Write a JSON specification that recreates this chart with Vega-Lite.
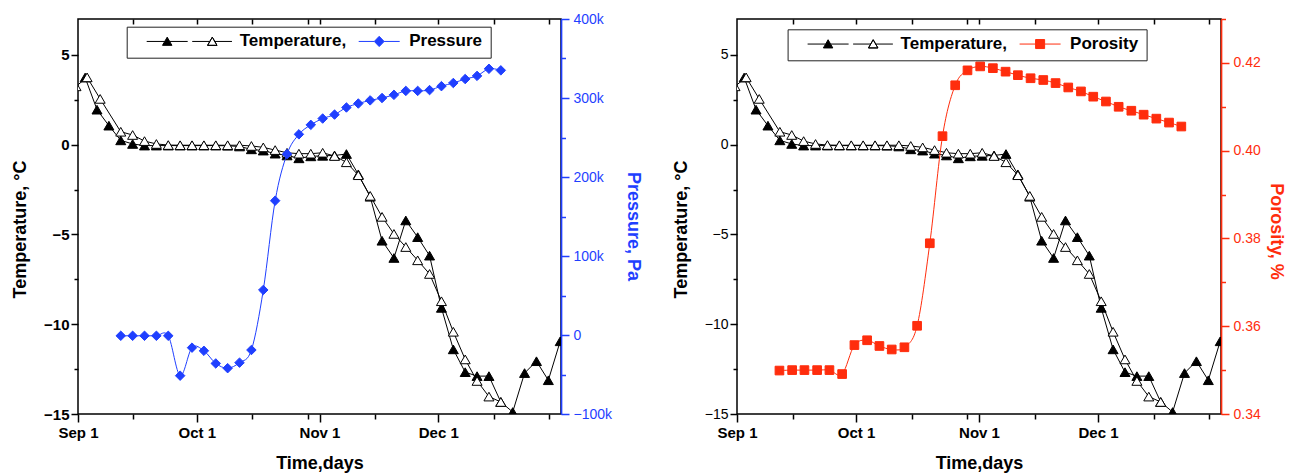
{
  "$schema": "https://vega.github.io/schema/vega-lite/v6.json",
  "padding": {"left": 10, "top": 11, "right": 0, "bottom": 0},
  "spacing": 28,
  "datasets": {
    "temp": [
      {"day": 1.8, "temp": 3.74, "series": "T1", "quantity": "Temperature"},
      {"day": 4.8, "temp": 1.95, "series": "T1", "quantity": "Temperature"},
      {"day": 7.8, "temp": 1.06, "series": "T1", "quantity": "Temperature"},
      {"day": 10.8, "temp": 0.24, "series": "T1", "quantity": "Temperature"},
      {"day": 13.8, "temp": 0.04, "series": "T1", "quantity": "Temperature"},
      {"day": 16.8, "temp": -0.05, "series": "T1", "quantity": "Temperature"},
      {"day": 19.8, "temp": -0.05, "series": "T1", "quantity": "Temperature"},
      {"day": 22.8, "temp": -0.05, "series": "T1", "quantity": "Temperature"},
      {"day": 25.8, "temp": -0.05, "series": "T1", "quantity": "Temperature"},
      {"day": 28.8, "temp": -0.05, "series": "T1", "quantity": "Temperature"},
      {"day": 31.8, "temp": -0.05, "series": "T1", "quantity": "Temperature"},
      {"day": 34.8, "temp": -0.05, "series": "T1", "quantity": "Temperature"},
      {"day": 37.8, "temp": -0.06, "series": "T1", "quantity": "Temperature"},
      {"day": 40.8, "temp": -0.1, "series": "T1", "quantity": "Temperature"},
      {"day": 43.8, "temp": -0.26, "series": "T1", "quantity": "Temperature"},
      {"day": 46.8, "temp": -0.33, "series": "T1", "quantity": "Temperature"},
      {"day": 49.8, "temp": -0.5, "series": "T1", "quantity": "Temperature"},
      {"day": 52.8, "temp": -0.6, "series": "T1", "quantity": "Temperature"},
      {"day": 55.8, "temp": -0.76, "series": "T1", "quantity": "Temperature"},
      {"day": 58.8, "temp": -0.65, "series": "T1", "quantity": "Temperature"},
      {"day": 61.8, "temp": -0.62, "series": "T1", "quantity": "Temperature"},
      {"day": 64.8, "temp": -0.6, "series": "T1", "quantity": "Temperature"},
      {"day": 67.8, "temp": -0.52, "series": "T1", "quantity": "Temperature"},
      {"day": 70.8, "temp": -1.65, "series": "T1", "quantity": "Temperature"},
      {"day": 73.8, "temp": -2.9, "series": "T1", "quantity": "Temperature"},
      {"day": 76.8, "temp": -5.35, "series": "T1", "quantity": "Temperature"},
      {"day": 79.8, "temp": -6.31, "series": "T1", "quantity": "Temperature"},
      {"day": 82.8, "temp": -4.22, "series": "T1", "quantity": "Temperature"},
      {"day": 85.8, "temp": -5.15, "series": "T1", "quantity": "Temperature"},
      {"day": 88.8, "temp": -6.18, "series": "T1", "quantity": "Temperature"},
      {"day": 91.8, "temp": -9.09, "series": "T1", "quantity": "Temperature"},
      {"day": 94.8, "temp": -11.4, "series": "T1", "quantity": "Temperature"},
      {"day": 97.8, "temp": -12.67, "series": "T1", "quantity": "Temperature"},
      {"day": 100.8, "temp": -12.89, "series": "T1", "quantity": "Temperature"},
      {"day": 103.8, "temp": -12.89, "series": "T1", "quantity": "Temperature"},
      {"day": 106.8, "temp": -14.33, "series": "T1", "quantity": "Temperature"},
      {"day": 109.8, "temp": -14.89, "series": "T1", "quantity": "Temperature"},
      {"day": 112.8, "temp": -12.72, "series": "T1", "quantity": "Temperature"},
      {"day": 115.8, "temp": -12.06, "series": "T1", "quantity": "Temperature"},
      {"day": 118.8, "temp": -13.12, "series": "T1", "quantity": "Temperature"},
      {"day": 121.8, "temp": -10.95, "series": "T1", "quantity": "Temperature"},
      {"day": -0.5, "temp": 3.25, "series": "T2", "quantity": "Temperature"},
      {"day": 2.3, "temp": 3.75, "series": "T2", "quantity": "Temperature"},
      {"day": 5.6, "temp": 2.55, "series": "T2", "quantity": "Temperature"},
      {"day": 10.8, "temp": 0.72, "series": "T2", "quantity": "Temperature"},
      {"day": 13.8, "temp": 0.54, "series": "T2", "quantity": "Temperature"},
      {"day": 16.8, "temp": 0.2, "series": "T2", "quantity": "Temperature"},
      {"day": 19.8, "temp": 0.04, "series": "T2", "quantity": "Temperature"},
      {"day": 22.8, "temp": -0.02, "series": "T2", "quantity": "Temperature"},
      {"day": 25.8, "temp": -0.03, "series": "T2", "quantity": "Temperature"},
      {"day": 28.8, "temp": -0.03, "series": "T2", "quantity": "Temperature"},
      {"day": 31.8, "temp": -0.03, "series": "T2", "quantity": "Temperature"},
      {"day": 34.8, "temp": -0.03, "series": "T2", "quantity": "Temperature"},
      {"day": 37.8, "temp": -0.03, "series": "T2", "quantity": "Temperature"},
      {"day": 40.8, "temp": -0.03, "series": "T2", "quantity": "Temperature"},
      {"day": 43.8, "temp": -0.07, "series": "T2", "quantity": "Temperature"},
      {"day": 46.8, "temp": -0.15, "series": "T2", "quantity": "Temperature"},
      {"day": 49.8, "temp": -0.3, "series": "T2", "quantity": "Temperature"},
      {"day": 52.8, "temp": -0.45, "series": "T2", "quantity": "Temperature"},
      {"day": 55.8, "temp": -0.5, "series": "T2", "quantity": "Temperature"},
      {"day": 58.8, "temp": -0.5, "series": "T2", "quantity": "Temperature"},
      {"day": 61.8, "temp": -0.45, "series": "T2", "quantity": "Temperature"},
      {"day": 64.8, "temp": -0.63, "series": "T2", "quantity": "Temperature"},
      {"day": 67.8, "temp": -0.98, "series": "T2", "quantity": "Temperature"},
      {"day": 70.8, "temp": -1.7, "series": "T2", "quantity": "Temperature"},
      {"day": 73.8, "temp": -2.85, "series": "T2", "quantity": "Temperature"},
      {"day": 76.8, "temp": -4.02, "series": "T2", "quantity": "Temperature"},
      {"day": 79.8, "temp": -4.97, "series": "T2", "quantity": "Temperature"},
      {"day": 82.8, "temp": -5.7, "series": "T2", "quantity": "Temperature"},
      {"day": 85.8, "temp": -6.44, "series": "T2", "quantity": "Temperature"},
      {"day": 88.8, "temp": -7.2, "series": "T2", "quantity": "Temperature"},
      {"day": 91.8, "temp": -8.72, "series": "T2", "quantity": "Temperature"},
      {"day": 94.8, "temp": -10.42, "series": "T2", "quantity": "Temperature"},
      {"day": 97.8, "temp": -11.96, "series": "T2", "quantity": "Temperature"},
      {"day": 100.8, "temp": -13.16, "series": "T2", "quantity": "Temperature"},
      {"day": 103.8, "temp": -14.03, "series": "T2", "quantity": "Temperature"},
      {"day": 106.8, "temp": -14.33, "series": "T2", "quantity": "Temperature"}
    ],
    "pressure": [
      {"day": 10.8, "pressure": -1000, "series": "P", "quantity": "Pressure"},
      {"day": 13.8, "pressure": -1000, "series": "P", "quantity": "Pressure"},
      {"day": 16.8, "pressure": -1000, "series": "P", "quantity": "Pressure"},
      {"day": 19.8, "pressure": -1000, "series": "P", "quantity": "Pressure"},
      {"day": 22.8, "pressure": -1000, "series": "P", "quantity": "Pressure"},
      {"day": 25.8, "pressure": -51500, "series": "P", "quantity": "Pressure"},
      {"day": 28.8, "pressure": -16000, "series": "P", "quantity": "Pressure"},
      {"day": 31.8, "pressure": -20000, "series": "P", "quantity": "Pressure"},
      {"day": 34.8, "pressure": -36000, "series": "P", "quantity": "Pressure"},
      {"day": 37.8, "pressure": -42000, "series": "P", "quantity": "Pressure"},
      {"day": 40.8, "pressure": -35000, "series": "P", "quantity": "Pressure"},
      {"day": 43.8, "pressure": -19000, "series": "P", "quantity": "Pressure"},
      {"day": 46.8, "pressure": 57000, "series": "P", "quantity": "Pressure"},
      {"day": 49.8, "pressure": 170000, "series": "P", "quantity": "Pressure"},
      {"day": 52.8, "pressure": 229000, "series": "P", "quantity": "Pressure"},
      {"day": 55.8, "pressure": 254000, "series": "P", "quantity": "Pressure"},
      {"day": 58.8, "pressure": 266000, "series": "P", "quantity": "Pressure"},
      {"day": 61.8, "pressure": 274000, "series": "P", "quantity": "Pressure"},
      {"day": 64.8, "pressure": 279000, "series": "P", "quantity": "Pressure"},
      {"day": 67.8, "pressure": 288000, "series": "P", "quantity": "Pressure"},
      {"day": 70.8, "pressure": 293000, "series": "P", "quantity": "Pressure"},
      {"day": 73.8, "pressure": 297000, "series": "P", "quantity": "Pressure"},
      {"day": 76.8, "pressure": 300000, "series": "P", "quantity": "Pressure"},
      {"day": 79.8, "pressure": 304000, "series": "P", "quantity": "Pressure"},
      {"day": 82.8, "pressure": 309000, "series": "P", "quantity": "Pressure"},
      {"day": 85.8, "pressure": 309000, "series": "P", "quantity": "Pressure"},
      {"day": 88.8, "pressure": 310000, "series": "P", "quantity": "Pressure"},
      {"day": 91.8, "pressure": 315000, "series": "P", "quantity": "Pressure"},
      {"day": 94.8, "pressure": 319000, "series": "P", "quantity": "Pressure"},
      {"day": 97.8, "pressure": 324000, "series": "P", "quantity": "Pressure"},
      {"day": 100.8, "pressure": 328000, "series": "P", "quantity": "Pressure"},
      {"day": 103.8, "pressure": 337000, "series": "P", "quantity": "Pressure"},
      {"day": 106.8, "pressure": 335000, "series": "P", "quantity": "Pressure"}
    ],
    "porosity": [
      {"day": 10.7, "porosity": 0.3499, "series": "R", "quantity": "Porosity"},
      {"day": 13.9, "porosity": 0.35, "series": "R", "quantity": "Porosity"},
      {"day": 17.0, "porosity": 0.35, "series": "R", "quantity": "Porosity"},
      {"day": 20.2, "porosity": 0.35, "series": "R", "quantity": "Porosity"},
      {"day": 23.3, "porosity": 0.35, "series": "R", "quantity": "Porosity"},
      {"day": 26.5, "porosity": 0.3491, "series": "R", "quantity": "Porosity"},
      {"day": 29.6, "porosity": 0.3557, "series": "R", "quantity": "Porosity"},
      {"day": 32.8, "porosity": 0.3568, "series": "R", "quantity": "Porosity"},
      {"day": 35.9, "porosity": 0.3555, "series": "R", "quantity": "Porosity"},
      {"day": 39.0, "porosity": 0.3547, "series": "R", "quantity": "Porosity"},
      {"day": 42.2, "porosity": 0.3552, "series": "R", "quantity": "Porosity"},
      {"day": 45.4, "porosity": 0.3601, "series": "R", "quantity": "Porosity"},
      {"day": 48.6, "porosity": 0.3789, "series": "R", "quantity": "Porosity"},
      {"day": 51.8, "porosity": 0.4033, "series": "R", "quantity": "Porosity"},
      {"day": 55.0, "porosity": 0.4149, "series": "R", "quantity": "Porosity"},
      {"day": 58.1, "porosity": 0.4183, "series": "R", "quantity": "Porosity"},
      {"day": 61.3, "porosity": 0.4192, "series": "R", "quantity": "Porosity"},
      {"day": 64.5, "porosity": 0.4188, "series": "R", "quantity": "Porosity"},
      {"day": 67.7, "porosity": 0.418, "series": "R", "quantity": "Porosity"},
      {"day": 70.8, "porosity": 0.4172, "series": "R", "quantity": "Porosity"},
      {"day": 74.0, "porosity": 0.4165, "series": "R", "quantity": "Porosity"},
      {"day": 77.2, "porosity": 0.4161, "series": "R", "quantity": "Porosity"},
      {"day": 80.3, "porosity": 0.4154, "series": "R", "quantity": "Porosity"},
      {"day": 83.5, "porosity": 0.4144, "series": "R", "quantity": "Porosity"},
      {"day": 86.7, "porosity": 0.4135, "series": "R", "quantity": "Porosity"},
      {"day": 89.8, "porosity": 0.4123, "series": "R", "quantity": "Porosity"},
      {"day": 93.0, "porosity": 0.4112, "series": "R", "quantity": "Porosity"},
      {"day": 96.2, "porosity": 0.41, "series": "R", "quantity": "Porosity"},
      {"day": 99.4, "porosity": 0.4091, "series": "R", "quantity": "Porosity"},
      {"day": 102.5, "porosity": 0.4082, "series": "R", "quantity": "Porosity"},
      {"day": 105.7, "porosity": 0.4073, "series": "R", "quantity": "Porosity"},
      {"day": 108.9, "porosity": 0.4064, "series": "R", "quantity": "Porosity"},
      {"day": 112.0, "porosity": 0.4055, "series": "R", "quantity": "Porosity"}
    ]
  },
  "hconcat": [
    {
      "width": 483,
      "height": 395,
      "encoding": {
        "stroke": {
          "field": "quantity", "type": "nominal",
          "scale": {"domain": ["Temperature", "Pressure"], "range": ["black", "#1f3fff"]},
          "legend": {
            "orient": "none", "legendX": 48.7, "legendY": 7.7, "direction": "horizontal", "title": null,
            "strokeColor": "#222222", "fillColor": "white", "padding": 8, "clipHeight": 13,
            "symbolSize": 1681, "symbolStrokeWidth": 1, "symbolOffset": 11.5, "symbolOpacity": 1,
            "symbolType": {"expr": "datum.value == 'Temperature' ? 'M-1,0H-0.12M0.12,0H1M0,-0.21L0.23,0.19L-0.23,0.19ZM1.22,0H2.08M2.32,0H3.16M2.2,-0.21L2.43,0.19L1.97,0.19ZM2.2,-0.21L1.97,0.19L2.43,0.19Z' : 'M-1,0H-0.24M0.24,0H1M-0.24,0L0,-0.25L0.24,0L0,0.25Z'"},
            "symbolFillColor": {"expr": "datum.value == 'Temperature' ? 'black' : '#1f3fff'"},
            "labelExpr": "datum.value == 'Temperature' ? 'Temperature,' : 'Pressure'",
            "labelFont": "Liberation Sans", "labelFontSize": 17, "labelFontWeight": "bold", "labelColor": "black",
            "labelLimit": 400, "labelOffset": {"expr": "datum.value == 'Temperature' ? 51.5 : 9"}, "columnPadding": -3
          }
        }
      },
      "layer": [
        {
          "data": {"name": "temp"},
          "encoding": {
            "x": {
              "field": "day", "type": "quantitative",
              "scale": {"domain": [0, 122], "nice": false, "zero": false},
              "axis": {
                "orient": "bottom",
                "values": [0, 14, 30, 44, 58, 61, 75, 91, 105, 119],
                "labelExpr": "datum.value == 0 ? 'Sep 1' : datum.value == 30 ? 'Oct 1' : datum.value == 61 ? 'Nov 1' : datum.value == 91 ? 'Dec 1' : ''",
                "tickSize": {"condition": {"test": "datum.value == 0 || datum.value == 30 || datum.value == 61 || datum.value == 91", "value": 8}, "value": 5},
                "tickWidth": 1.5, "tickColor": "black", "domain": false,
                "labelFontSize": 15, "labelFontWeight": "bold", "labelColor": "black", "labelPadding": 3,
                "labelFlush": false, "labelOverlap": false,
                "title": "Time,days", "titleFontSize": 18, "titleFontWeight": "bold", "titleColor": "black", "titlePadding": 14
              }
            },
            "y": {
              "field": "temp", "type": "quantitative",
              "scale": {"domain": [-15, 7], "nice": false, "zero": false},
              "axis": {
                "orient": "left",
                "values": [-15, -12.5, -10, -7.5, -5, -2.5, 0, 2.5, 5],
                "labelExpr": "datum.value % 5 == 0 ? format(datum.value, 'd') : ''",
                "tickSize": {"condition": {"test": "datum.value % 5 == 0", "value": 7}, "value": 4},
                "tickWidth": 1.5, "tickColor": "black", "domain": false,
                "labelFontSize": 15, "labelFontWeight": "bold", "labelColor": "black", "labelPadding": 2, "labelOverlap": false,
                "title": "Temperature, °C", "titleFontSize": 18, "titleFontWeight": "bold", "titleColor": "black", "titlePadding": 14, "titleY": 210
              }
            }
          },
          "layer": [
            {"mark": {"type": "line", "strokeWidth": 1, "clip": true}, "encoding": {"detail": {"field": "series"}}},
            {
              "mark": {"type": "point", "shape": "triangle-up", "size": 100, "filled": true, "opacity": 1, "strokeWidth": 1, "clip": true},
              "encoding": {"fill": {"field": "series", "type": "nominal", "scale": {"domain": ["T1", "T2", "P"], "range": ["black", "white", "#1f3fff"]}, "legend": null}}
            }
          ]
        },
        {
          "data": {"name": "pressure"},
          "encoding": {
            "x": {
              "field": "day", "type": "quantitative",
              "scale": {"domain": [0, 122], "nice": false, "zero": false},
              "axis": {"orient": "top", "values": [14, 30, 44, 58, 61, 75, 91, 105, 119], "labels": false, "tickSize": -5, "tickWidth": 1.5, "tickColor": "black", "domain": false, "title": null}
            },
            "y": {
              "field": "pressure", "type": "quantitative",
              "scale": {"domain": [-100000, 400000], "nice": false, "zero": false},
              "axis": {
                "orient": "right",
                "values": [-100000, -50000, 0, 50000, 100000, 150000, 200000, 250000, 300000, 350000, 400000],
                "labelExpr": "datum.value % 100000 == 0 ? (datum.value == 0 ? '0' : format(datum.value / 1000, 'd') + 'k') : ''",
                "tickSize": {"condition": {"test": "datum.value % 100000 == 0", "value": 8}, "value": 4.5},
                "tickWidth": 1.5, "tickColor": "#1f3fff", "domainColor": "#1f3fff", "domainWidth": 1.7,
                "labelFontSize": 14, "labelFontWeight": "normal", "labelColor": "#1f3fff", "labelPadding": 4, "labelOverlap": false,
                "title": "Pressure, Pa", "titleFontSize": 18, "titleFontWeight": "bold", "titleColor": "#1f3fff", "titlePadding": 12, "titleY": 207
              }
            }
          },
          "layer": [
            {"mark": {"type": "line", "interpolate": "cardinal", "strokeWidth": 1}},
            {
              "mark": {"type": "point", "shape": "diamond", "size": 90, "filled": true, "opacity": 1, "strokeWidth": 1},
              "encoding": {"fill": {"field": "series", "type": "nominal", "scale": {"domain": ["T1", "T2", "P"], "range": ["black", "white", "#1f3fff"]}, "legend": null}}
            }
          ]
        }
      ],
      "resolve": {"scale": {"y": "independent"}, "axis": {"x": "independent", "y": "independent"}}
    },
    {
      "width": 484,
      "height": 395,
      "encoding": {
        "stroke": {
          "field": "quantity", "type": "nominal",
          "scale": {"domain": ["Temperature", "Porosity"], "range": ["black", "#ff2d0d"]},
          "legend": {
            "orient": "none", "legendX": 50.6, "legendY": 10.3, "direction": "horizontal", "title": null,
            "strokeColor": "#222222", "fillColor": "white", "padding": 8, "clipHeight": 13,
            "symbolSize": 1681, "symbolStrokeWidth": 1, "symbolOffset": 11.5, "symbolOpacity": 1,
            "symbolType": {"expr": "datum.value == 'Temperature' ? 'M-1,0H-0.12M0.12,0H1M0,-0.21L0.23,0.19L-0.23,0.19ZM1.22,0H2.08M2.32,0H3.16M2.2,-0.21L2.43,0.19L1.97,0.19ZM2.2,-0.21L1.97,0.19L2.43,0.19Z' : 'M-1,0H-0.23M0.23,0H1M-0.22,-0.22H0.22V0.22H-0.22Z'"},
            "symbolFillColor": {"expr": "datum.value == 'Temperature' ? 'black' : '#ff2d0d'"},
            "labelExpr": "datum.value == 'Temperature' ? 'Temperature,' : 'Porosity'",
            "labelFont": "Liberation Sans", "labelFontSize": 17, "labelFontWeight": "bold", "labelColor": "black",
            "labelLimit": 400, "labelOffset": {"expr": "datum.value == 'Temperature' ? 51.5 : 9"}, "columnPadding": -3
          }
        }
      },
      "layer": [
        {
          "data": {"name": "temp"},
          "encoding": {
            "x": {
              "field": "day", "type": "quantitative",
              "scale": {"domain": [0, 122], "nice": false, "zero": false},
              "axis": {
                "orient": "bottom",
                "values": [0, 14, 30, 44, 58, 61, 75, 91, 105, 119],
                "labelExpr": "datum.value == 0 ? 'Sep 1' : datum.value == 30 ? 'Oct 1' : datum.value == 61 ? 'Nov 1' : datum.value == 91 ? 'Dec 1' : ''",
                "tickSize": {"condition": {"test": "datum.value == 0 || datum.value == 30 || datum.value == 61 || datum.value == 91", "value": 8}, "value": 5},
                "tickWidth": 1.5, "tickColor": "black", "domain": false,
                "labelFontSize": 15, "labelFontWeight": "bold", "labelColor": "black", "labelPadding": 3,
                "labelFlush": false, "labelOverlap": false,
                "title": "Time,days", "titleFontSize": 18, "titleFontWeight": "bold", "titleColor": "black", "titlePadding": 14
              }
            },
            "y": {
              "field": "temp", "type": "quantitative",
              "scale": {"domain": [-15, 7], "nice": false, "zero": false},
              "axis": {
                "orient": "left",
                "values": [-15, -12.5, -10, -7.5, -5, -2.5, 0, 2.5, 5],
                "labelExpr": "datum.value % 5 == 0 ? format(datum.value, 'd') : ''",
                "tickSize": {"condition": {"test": "datum.value % 5 == 0", "value": 7}, "value": 4},
                "tickWidth": 1.5, "tickColor": "black", "domain": false,
                "labelFontSize": 14, "labelFontWeight": "normal", "labelColor": "black", "labelPadding": 2, "labelOverlap": false,
                "title": "Temperature, °C", "titleFontSize": 18, "titleFontWeight": "bold", "titleColor": "black", "titlePadding": 14, "titleY": 210
              }
            }
          },
          "layer": [
            {"mark": {"type": "line", "strokeWidth": 1, "clip": true}, "encoding": {"detail": {"field": "series"}}},
            {
              "mark": {"type": "point", "shape": "triangle-up", "size": 100, "filled": true, "opacity": 1, "strokeWidth": 1, "clip": true},
              "encoding": {"fill": {"field": "series", "type": "nominal", "scale": {"domain": ["T1", "T2", "R"], "range": ["black", "white", "#ff2d0d"]}, "legend": null}}
            }
          ]
        },
        {
          "data": {"name": "porosity"},
          "encoding": {
            "x": {
              "field": "day", "type": "quantitative",
              "scale": {"domain": [0, 122], "nice": false, "zero": false},
              "axis": {"orient": "top", "values": [14, 30, 44, 58, 61, 75, 91, 105, 119], "labels": false, "tickSize": -5, "tickWidth": 1.5, "tickColor": "black", "domain": false, "title": null}
            },
            "y": {
              "field": "porosity", "type": "quantitative",
              "scale": {"domain": [0.34, 0.43], "nice": false, "zero": false},
              "axis": {
                "orient": "right",
                "values": [0.34, 0.35, 0.36, 0.37, 0.38, 0.39, 0.4, 0.41, 0.42, 0.43],
                "labelExpr": "round(datum.value * 100) % 2 == 0 ? format(datum.value, '.2f') : ''",
                "tickSize": {"condition": {"test": "round(datum.value * 100) % 2 == 0", "value": 8}, "value": 4.5},
                "tickWidth": 1.5, "tickColor": "#ff2d0d", "domainColor": "#ff2d0d", "domainWidth": 1.7,
                "labelFontSize": 14, "labelFontWeight": "normal", "labelColor": "#ff2d0d", "labelPadding": 4, "labelOverlap": false,
                "title": "Porosity, %", "titleFontSize": 18, "titleFontWeight": "bold", "titleColor": "#ff2d0d", "titlePadding": 6, "titleY": 212
              }
            }
          },
          "layer": [
            {"mark": {"type": "line", "interpolate": "cardinal", "strokeWidth": 1}},
            {
              "mark": {"type": "point", "shape": "square", "size": 75, "filled": true, "opacity": 1, "strokeWidth": 1},
              "encoding": {"fill": {"field": "series", "type": "nominal", "scale": {"domain": ["T1", "T2", "R"], "range": ["black", "white", "#ff2d0d"]}, "legend": null}}
            }
          ]
        }
      ],
      "resolve": {"scale": {"y": "independent"}, "axis": {"x": "independent", "y": "independent"}}
    }
  ],
  "resolve": {"scale": {"stroke": "independent", "fill": "independent"}, "legend": {"stroke": "independent", "fill": "independent"}},
  "config": {
    "font": "Liberation Sans",
    "view": {"stroke": "black", "strokeWidth": 1.5},
    "axis": {"grid": false, "labelFont": "Liberation Sans", "titleFont": "Liberation Sans"}
  }
}
